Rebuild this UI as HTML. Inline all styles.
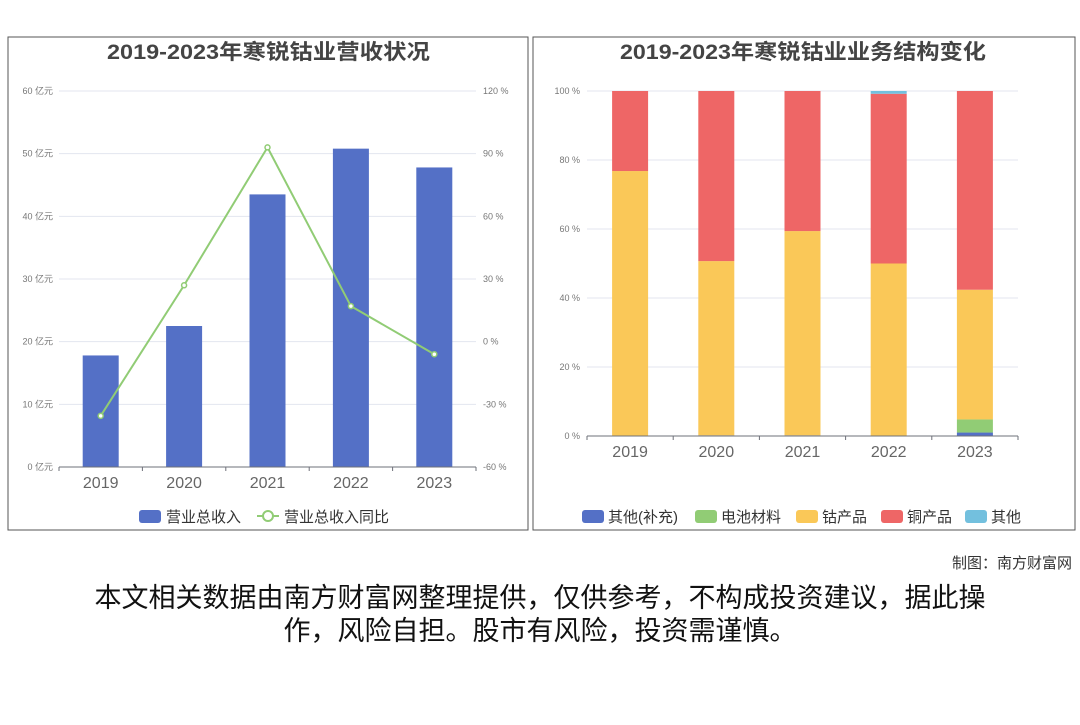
<!DOCTYPE html>
<html><head><meta charset="utf-8"><style>
body{margin:0;width:1080px;height:720px;background:#fff;overflow:hidden;font-family:"Liberation Sans","Noto Sans CJK SC",sans-serif}
svg text{font-family:"Liberation Sans","Noto Sans CJK SC",sans-serif}
</style></head><body>
<svg id="s" width="1080" height="720" xmlns="http://www.w3.org/2000/svg">
<rect x="8" y="37" width="520" height="493" fill="none" stroke="#555" stroke-width="1"/>
<rect x="533" y="37" width="542" height="493" fill="none" stroke="#555" stroke-width="1"/>
<text x="107" y="59" textLength="323" lengthAdjust="spacingAndGlyphs" font-size="21" font-weight="bold" fill="#444">2019-2023年寒锐钴业营收状况</text>
<text x="620" y="59" textLength="366" lengthAdjust="spacingAndGlyphs" font-size="21" font-weight="bold" fill="#444">2019-2023年寒锐钴业业务结构变化</text>
<g id="L"></g><g id="R"></g>
<text x="1072" y="568" text-anchor="end" font-size="15" fill="#333">制图：南方财富网</text>
<text x="540" y="607" text-anchor="middle" font-size="27" fill="#111">本文相关数据由南方财富网整理提供，仅供参考，不构成投资建议，据此操</text>
<text x="540" y="640" text-anchor="middle" font-size="27" fill="#111">作，风险自担。股市有风险，投资需谨慎。</text>
</svg>
<script>
const years=['2019','2020','2021','2022','2023'];
const revenue=[17.8,22.5,43.5,50.8,47.8];
const growth=[-35.5,27,93,17,-6];
const leftTicks=[0,10,20,30,40,50,60];
const rightTicks=[-60,-30,0,30,60,90,120];
const segOther2=[0,0.2,0.2,0,1];
const segBattery=[0,0,0,0,3.8];
const segCobalt=[76.8,50.5,59.2,50,37.6];
const segCopper=[23.2,49.3,40.6,49.2,57.6];
const segOther=[0,0,0,0.8,0];
const pctTicks=[0,20,40,60,80,100];
const NS='http://www.w3.org/2000/svg';
function mk(p,t,a,txt){const e=document.createElementNS(NS,t);for(const k in a)e.setAttribute(k,a[k]);if(txt!=null)e.textContent=txt;p.appendChild(e);return e;}
// Left
const L=document.getElementById('L');
const lx0=59,lx1=476,ly0=467,ly1=91;
const bw=(lx1-lx0)/years.length;
const yL=v=>ly0-(v/60)*(ly0-ly1);
const yR=v=>ly0-((v+60)/180)*(ly0-ly1);
const xL=i=>lx0+bw*(i+0.5);
leftTicks.forEach((t,i)=>{
 if(t>0){const g=mk(L,'line',{x1:lx0,x2:lx1,y1:yL(t),y2:yL(t),stroke:'#e3e6ef'});}
 const a=mk(L,'text',{x:53,y:yL(t)+3,'text-anchor':'end','font-size':9,fill:'#777'},t+' 亿元');
 
});
rightTicks.forEach(t=>{
 const a=mk(L,'text',{x:483,y:yR(t)+3,'font-size':9,fill:'#777'},t+' %');
 
});
revenue.forEach((v,i)=>{
 const r=mk(L,'rect',{x:xL(i)-18,y:yL(v),width:36,height:ly0-yL(v),fill:'#5470c6'});
 
});
const ax=mk(L,'line',{x1:lx0,x2:lx1,y1:ly0,y2:ly0,stroke:'#6e7079'});

for(let i=0;i<=years.length;i++){const t=mk(L,'line',{x1:lx0+bw*i,x2:lx0+bw*i,y1:ly0,y2:ly0+4,stroke:'#6e7079'});}
years.forEach((y,i)=>{const t=mk(L,'text',{x:xL(i),y:488,'text-anchor':'middle','font-size':16,fill:'#666'},y);});
const pl=mk(L,'polyline',{points:growth.map((v,i)=>xL(i)+','+yR(v)).join(' '),fill:'none',stroke:'#91cc75','stroke-width':2});

growth.forEach((v,i)=>{const c=mk(L,'circle',{cx:xL(i),cy:yR(v),r:2.5,fill:'#fff',stroke:'#91cc75','stroke-width':1.5});});
let lg=mk(L,'rect',{x:139,y:510,width:22,height:13,rx:3,fill:'#5470c6'});
lg=mk(L,'text',{x:166,y:522,'font-size':15,fill:'#333'},'营业总收入');
lg=mk(L,'line',{x1:257,x2:279,y1:516,y2:516,stroke:'#91cc75','stroke-width':2});
lg=mk(L,'circle',{cx:268,cy:516,r:5,fill:'#fff',stroke:'#91cc75','stroke-width':2});
lg=mk(L,'text',{x:284,y:522,'font-size':15,fill:'#333'},'营业总收入同比');
// Right
const R=document.getElementById('R');
const rx0=587,rx1=1018,ry0=436,ry1=91;
const rbw=(rx1-rx0)/years.length;
const yP=v=>ry0-(v/100)*(ry0-ry1);
const xR=i=>rx0+rbw*(i+0.5);
pctTicks.forEach(t=>{
 if(t>0){const g=mk(R,'line',{x1:rx0,x2:rx1,y1:yP(t),y2:yP(t),stroke:'#e3e6ef'});}
 const a=mk(R,'text',{x:580,y:yP(t)+3,'text-anchor':'end','font-size':9,fill:'#777'},t+' %');
 
});
const series=[['other-supplement',segOther2,'#5470c6'],['battery-material',segBattery,'#91cc75'],['cobalt-product',segCobalt,'#fac858'],['copper-product',segCopper,'#ee6666'],['other',segOther,'#73c0de']];
years.forEach((y,i)=>{let acc=0;series.forEach(s=>{const v=s[1][i];if(v>0){const r=mk(R,'rect',{x:xR(i)-18,y:yP(acc+v),width:36,height:yP(acc)-yP(acc+v),fill:s[2]});}acc+=v;});});
const ax2=mk(R,'line',{x1:rx0,x2:rx1,y1:ry0,y2:ry0,stroke:'#6e7079'});

for(let i=0;i<=years.length;i++){const t=mk(R,'line',{x1:rx0+rbw*i,x2:rx0+rbw*i,y1:ry0,y2:ry0+4,stroke:'#6e7079'});}
years.forEach((y,i)=>{const t=mk(R,'text',{x:xR(i),y:457,'text-anchor':'middle','font-size':16,fill:'#666'},y);});
const legendNames=['其他(补充)','电池材料','钴产品','铜产品','其他'];
const legendX=[582,695,796,881,965];
legendNames.forEach((n,i)=>{
 const r=mk(R,'rect',{x:legendX[i],y:510,width:22,height:13,rx:3,fill:series[i][2]});
 const t=mk(R,'text',{x:legendX[i]+26,y:522,'font-size':15,fill:'#333'},n);
});
</script>
</body></html>
